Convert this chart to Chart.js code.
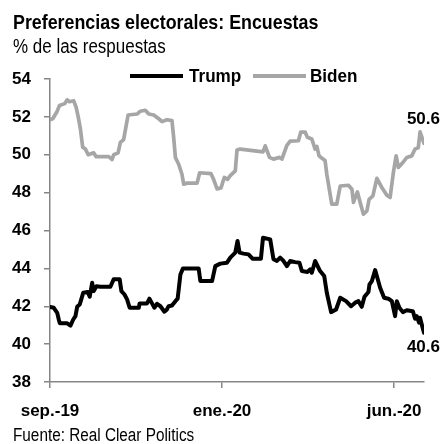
<!DOCTYPE html>
<html>
<head>
<meta charset="utf-8">
<script src="https://cdn.jsdelivr.net/npm/chart.js@4"></script>
<style>
  html, body { margin: 0; padding: 0; background: #fff; }
</style>
</head>
<body>
<canvas id="polls" width="443" height="444"></canvas>
<script>
const FONT = "'Liberation Sans', Arial, sans-serif";

const titleText = 'Preferencias electorales: Encuestas';
const subtitleText = '% de las respuestas';
const sourceText = 'Fuente: Real Clear Politics';

// x axis is a category-style index: a label every 100 points
const xLabels = ['sep.-19', 'ene.-20', 'jun.-20'];
const xLabelAt = [0, 100, 200];

const trumpX = [0, 2.2, 4.2, 5.1, 5.7, 10, 11.9, 13.5, 14.8, 15.8, 17.3, 19.3, 21.9, 23.1, 24.5, 25.4, 27, 29.3, 35.1, 37,
  40.5, 41.5, 43.3, 44.8, 46.3, 51.6, 52.1, 56.4, 57.8, 59.3, 60.7, 62.2, 64.2, 66.5, 68, 68.9, 70.9, 72.9, 74.2, 75.8,
  77.3, 86.4, 87.4, 94.2, 96.1, 99, 102.9, 104.8, 107.7, 109, 110.2, 112.5, 115.4, 117.7, 122.6, 123.8, 128, 129.9, 131.9, 133.8,
  135.7, 137.7, 139.6, 142.5, 145, 146.4, 149.7, 151.2, 152.2, 154.1, 157, 159.4, 160.9, 163.4, 166.3, 168.7, 172.1, 175, 177.4, 179.3,
  181.2, 182.8, 185.1, 185.7, 187.1, 189, 191.9, 194.2, 196.7, 198.7, 200.6, 201.6, 203.1, 205.1, 207.4, 210.9, 212.2, 213.2, 214.5, 215.1,
  216.1, 217.4];
const trumpY = [41.97, 41.92, 41.65, 41.3, 41.1, 41.1, 40.98, 41.3, 41.48, 41.97, 42.1, 42.71, 42.75, 42.5, 43.24, 42.8, 43.06, 43.03, 43.03, 43.42,
  43.42, 42.8, 42.62, 42.36, 41.92, 41.92, 42.15, 42.15, 42.4, 42.15, 41.92, 42.13, 42.0, 41.71, 41.83, 42.0, 42.04, 42.27, 42.4, 43.68,
  44.0, 44.0, 43.33, 43.33, 44.12, 44.25, 44.3, 44.57, 44.83, 45.45, 44.83, 44.78, 44.74, 44.51, 44.51, 45.62, 45.53, 44.48, 44.39, 44.57,
  44.39, 44.12, 44.39, 44.33, 44.3, 43.86, 43.81, 43.95, 43.77, 44.39, 43.86, 43.6, 42.71, 41.69, 41.83, 42.45, 42.27, 42.0, 42.19, 42.27,
  41.97, 42.5, 42.75, 43.15, 43.33, 43.91, 42.98, 42.45, 42.4, 42.27, 41.48, 42.27, 41.92, 41.69, 41.79, 41.74, 41.34, 41.48, 41.13, 41.39,
  41.04, 40.6];

const bidenX = [0, 1.6, 4.2, 5.5, 8.6, 10, 11.3, 13.8, 15.2, 16.4, 17.7, 19, 20.6, 22.2, 25.4, 26.8, 34.1, 36.1, 37, 39.6,
  40.9, 42.8, 45.4, 50.6, 52.5, 55.4, 57.4, 60.3, 63.2, 65.1, 68, 70.9, 71.9, 72.9, 74.8, 76.7, 77.7, 79.7, 85.5, 87,
  93.6, 95.1, 97.1, 99.4, 101.3, 103.2, 104.8, 107.7, 108.7, 110.6, 123.8, 125.1, 127.6, 129.9, 133.4, 134.8, 137.7, 139.6, 144.4, 145.8,
  148.3, 149.6, 152.2, 154.1, 155.1, 156.4, 158.3, 159.9, 160.9, 163.8, 166.7, 168.7, 173.5, 175.5, 176.4, 178.7, 180.3, 182.2, 184.2, 185.5,
  187.7, 190, 192.9, 195.8, 197.7, 199.6, 201.2, 202.5, 205.1, 207.4, 210.3, 212.2, 214.1, 215.1, 217.4];
const bidenY = [51.85, 51.9, 52.3, 52.6, 52.7, 52.9, 52.8, 52.85, 52.5, 52.0, 51.35, 50.4, 50.3, 50.0, 50.1, 49.9, 49.9, 49.75, 50.0, 50.1,
  50.65, 50.8, 52.1, 52.15, 52.3, 52.35, 52.15, 52.1, 51.9, 51.75, 51.85, 51.8, 50.9, 49.85, 49.5, 48.97, 48.45, 48.5, 48.5, 49.05,
  49.0, 48.7, 48.2, 48.25, 48.8, 48.7, 48.9, 49.15, 50.25, 50.3, 50.15, 50.47, 49.86, 49.77, 49.86, 49.77, 50.5, 50.72, 50.74, 51.2,
  51.2, 50.92, 50.83, 50.3, 50.44, 49.94, 49.8, 49.7, 48.97, 47.39, 47.39, 48.35, 48.39, 48.18, 47.48, 48.04, 47.48, 46.86, 47.03, 47.65,
  47.83, 48.75, 48.27, 47.86, 47.74, 49.06, 49.94, 49.33, 49.59, 49.86, 49.94, 50.3, 50.38, 51.21, 50.6];

const TRUMP = '#000000';
const BIDEN = '#a6a6a6';
const AXIS = '#868686';

const toPoints = (xs, ys) => xs.map((x, i) => ({ x: x, y: ys[i] }));

// the reference type is a bit condensed: draw taller text squeezed sideways
function narrowText(ctx, text, x, y, size, weight, sx) {
  ctx.save();
  ctx.translate(x, y);
  ctx.scale(sx, 1);
  ctx.font = weight + ' ' + size + 'px ' + FONT;
  ctx.fillText(text, 0, 0);
  ctx.restore();
}

// title, legend, source and the two end-value labels
const extras = {
  id: 'extras',
  afterDraw(chart) {
    const ctx = chart.ctx;
    const area = chart.chartArea;
    const y = chart.scales.y;
    ctx.save();
    ctx.fillStyle = '#000';
    ctx.textBaseline = 'middle';
    ctx.textAlign = 'left';
    narrowText(ctx, titleText, 13, 23, 20.5, 'bold', 0.87);
    narrowText(ctx, subtitleText, 13, 48, 19.5, 'normal', 0.87);

    const items = [[130, 183, 189], [253, 306, 310]];
    chart.data.datasets.forEach((ds, i) => {
      const it = items[i];
      ctx.strokeStyle = ds.borderColor;
      ctx.lineWidth = 4;
      ctx.beginPath();
      ctx.moveTo(it[0], 76);
      ctx.lineTo(it[1], 76);
      ctx.stroke();
      narrowText(ctx, ds.label, it[2], 77, 18, 'bold', 0.95);
    });

    narrowText(ctx, sourceText, 13, 436, 17.6, 'normal', 0.87);

    ctx.font = 'bold 17px ' + FONT;
    ctx.textAlign = 'right';
    const bLast = bidenY[bidenY.length - 1];
    const tLast = trumpY[trumpY.length - 1];
    ctx.fillText(bLast.toFixed(1), area.right + 16, y.getPixelForValue(bLast) - 24);
    ctx.fillText(tLast.toFixed(1), area.right + 16, y.getPixelForValue(tLast) + 15);
    ctx.restore();
  }
};

new Chart(document.getElementById('polls'), {
  type: 'line',
  data: {
    datasets: [
      { label: 'Trump', data: toPoints(trumpX, trumpY), borderColor: TRUMP, backgroundColor: TRUMP, borderWidth: 4 },
      { label: 'Biden', data: toPoints(bidenX, bidenY), borderColor: BIDEN, backgroundColor: BIDEN, borderWidth: 3.7 }
    ]
  },
  options: {
    responsive: false,
    animation: false,
    layout: { padding: { top: 79, right: 19, left: 0, bottom: 0 } },
    elements: {
      point: { radius: 0 },
      line: { tension: 0, borderJoinStyle: 'round', borderCapStyle: 'round' }
    },
    plugins: {
      legend: { display: false },
      title: { display: false },
      tooltip: { enabled: false }
    },
    scales: {
      x: {
        type: 'linear',
        min: 0,
        max: 217.4,
        afterBuildTicks: s => { s.ticks = xLabelAt.map(v => ({ value: v })); },
        afterFit: s => { s.height = 62; },
        ticks: {
          callback: (v, i) => xLabels[i],
          autoSkip: false,
          maxRotation: 0,
          padding: 13,
          color: '#000',
          font: { family: FONT, size: 17, weight: 'bold' }
        },
        grid: { drawOnChartArea: false, tickLength: 6, color: AXIS, lineWidth: 1.5 },
        border: { color: AXIS, width: 1.5 }
      },
      y: {
        min: 38,
        max: 54,
        afterFit: s => { s.width = 50; },
        ticks: {
          stepSize: 2,
          padding: 13,
          color: '#000',
          font: { family: FONT, size: 17, weight: 'bold' }
        },
        grid: { drawOnChartArea: false, tickLength: 6, color: AXIS, lineWidth: 1.5 },
        border: { color: AXIS, width: 1.5 }
      }
    }
  },
  plugins: [extras]
});
</script>
</body>
</html>
